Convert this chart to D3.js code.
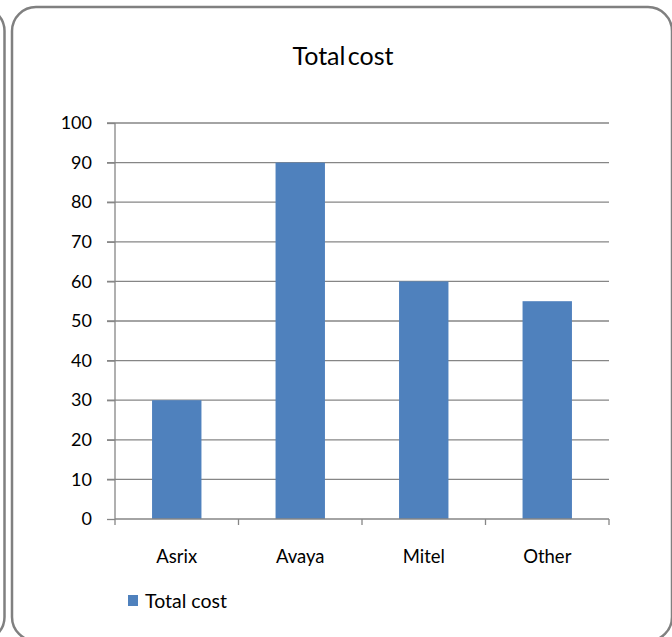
<!DOCTYPE html>
<html><head><meta charset="utf-8">
<script src="https://cdn.jsdelivr.net/npm/d3@7"></script>
<style>html,body{margin:0;padding:0;background:#fff;}svg{display:block;}</style>
</head><body>
<svg id="c" width="672" height="637"></svg>
<script>
const categories = ["Asrix", "Avaya", "Mitel", "Other"];
const values = [30, 90, 60, 55];
const seriesName = "Total cost";
const chartTitle = "Total cost";
const yTicks = [0, 10, 20, 30, 40, 50, 60, 70, 80, 90, 100];

const svg = d3.select("#c");
const font = "Lato, 'Open Sans', sans-serif";
const fw = 400;
const grey = "#868686";

// neighbouring chart frame (partial) and main frame
svg.append("rect").attr("x", -660).attr("y", 7).attr("width", 664.5).attr("height", 634)
  .attr("rx", 24).attr("fill", "none").attr("stroke", "#808080").attr("stroke-width", 2.5);
svg.append("rect").attr("x", 12).attr("y", 7).attr("width", 660).attr("height", 634)
  .attr("rx", 24).attr("fill", "#fff").attr("stroke", "#808080").attr("stroke-width", 2.5);

const x = d3.scaleBand().domain(categories).range([115, 609]).paddingInner(0).paddingOuter(0);
const y = d3.scaleLinear().domain([0, 100]).range([519, 123]);

// gridlines
svg.append("g").selectAll("line").data(yTicks.filter(d => d > 0)).join("line")
  .attr("x1", 107).attr("x2", 609).attr("y1", d => y(d)).attr("y2", d => y(d))
  .attr("stroke", grey).attr("stroke-width", 1.3);

// bars
const bw = x.bandwidth() / 2.5;
svg.append("g").selectAll("rect").data(values).join("rect")
  .attr("x", (d, i) => x(categories[i]) + x.bandwidth() / 2 - bw / 2)
  .attr("y", d => y(d)).attr("width", bw).attr("height", d => y(0) - y(d))
  .attr("fill", "#4F81BD");

// y axis
const ya = svg.append("g").attr("transform", "translate(115,0)")
  .call(d3.axisLeft(y).tickValues(yTicks).tickSize(8).tickPadding(15));
ya.select(".domain").attr("stroke", grey).attr("stroke-width", 1.3).attr("d", `M0,${y(100)}V${y(0)}`);
ya.selectAll(".tick line").attr("stroke", grey).attr("stroke-width", 1.3);
ya.selectAll(".tick text").attr("font-family", font).attr("font-weight", fw).attr("font-size", 18).attr("fill", "#000");

// x axis
const xa = svg.append("g").attr("transform", `translate(0,${y(0)})`)
  .call(d3.axisBottom(x).tickSize(0).tickPadding(31));
xa.select(".domain").attr("stroke", grey).attr("stroke-width", 1.3).attr("d", "M115,0H609");
xa.selectAll(".tick text").attr("font-family", font).attr("font-weight", fw).attr("font-size", 18.5).attr("fill", "#000");
const bounds = categories.map(c => x(c)).concat([609]);
svg.append("g").selectAll("line").data(bounds).join("line")
  .attr("x1", d => d).attr("x2", d => d).attr("y1", y(0)).attr("y2", y(0) + 6)
  .attr("stroke", grey).attr("stroke-width", 1.3);

// title
svg.append("text").attr("x", 343).attr("y", 65).attr("text-anchor", "middle")
  .attr("font-family", font).attr("font-weight", fw).attr("font-size", 25).attr("word-spacing", -4)
  .attr("fill", "#000").text(chartTitle);

// legend
svg.append("rect").attr("x", 128).attr("y", 595).attr("width", 10).attr("height", 11).attr("fill", "#4F81BD");
svg.append("text").attr("x", 145).attr("y", 608).attr("font-family", font).attr("font-weight", fw).attr("font-size", 19.5)
  .attr("fill", "#000").text(seriesName);
</script>
</body></html>
